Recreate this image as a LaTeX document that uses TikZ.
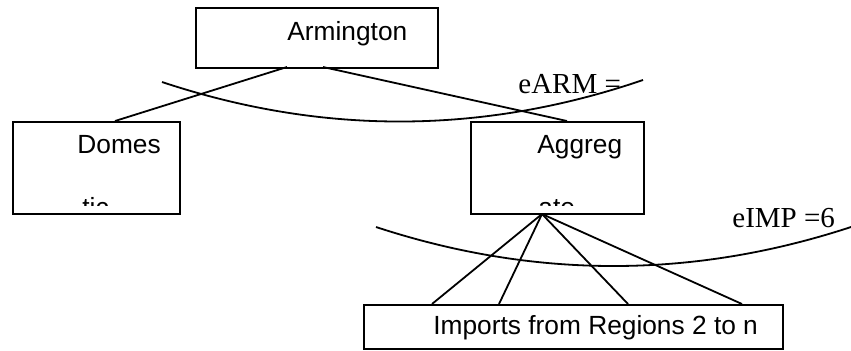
\documentclass[tikz,border=0pt]{standalone}
\usepackage{fontspec}
\setmainfont{Liberation Serif}
\newfontfamily\arialf{Liberation Sans}
\begin{document}
\begin{tikzpicture}[x=0.5pt,y=-0.5pt,
  box/.style={draw=black,line width=0.9pt,inner sep=0pt,anchor=north west},
  conn/.style={draw=black,line width=0.9pt},
  sanslabel/.style={font=\arialf\fontsize{13.15pt}{15pt}\selectfont,inner sep=0pt,anchor=base west},
  seriflabel/.style={font=\fontsize{14.5pt}{17pt}\selectfont,inner sep=0pt,anchor=base west}]
\useasboundingbox (0,0) rectangle (851,350);
\fill[white] (0,0) rectangle (851,350);
% boxes
\node[box,minimum width=121pt,minimum height=30pt] (arm) at (195,7) {};
\node[box,minimum width=83.5pt,minimum height=46pt] (dom) at (12,121) {};
\node[box,minimum width=86.5pt,minimum height=46pt] (agg) at (470,121) {};
\node[box,minimum width=209.5pt,minimum height=22pt] (imp) at (363,304) {};
% texts
\node[sanslabel] (tarm) at (287,40) {Armington};
\node[sanslabel] (tdom) at (77,153) {Domes};
\node[sanslabel] (tagg) at (537,153) {Aggreg};
\begin{scope}
  \clip (12,121) rectangle (643,205);
  \node[sanslabel] (tdom2) at (82,216) {tic};
  \node[sanslabel] (tagg2) at (538,216) {ate};
\end{scope}
\begin{scope}
  \clip (363,304) rectangle (782,339);
  \node[sanslabel] (timp) at (433,334) {Imports from Regions 2 to n};
\end{scope}
\node[seriflabel] (earm) at (518,93) {eARM =};
\node[seriflabel] (eimp) at (732,227) {eIMP =6};
% connection points
\coordinate (armA) at (287,67);
\coordinate (armB) at (323,67);
\coordinate (domT) at (115,121);
\coordinate (aggT) at (567,121);
\coordinate (aggB) at (542,214);
\coordinate (imp1) at (432,304);
\coordinate (imp2) at (499,304);
\coordinate (imp3) at (628,304);
\coordinate (imp4) at (742,304);
% connectors
\draw[conn] (armA) -- (domT);
\draw[conn] (armB) -- (aggT);
\draw[conn] (aggB) -- (imp1);
\draw[conn] (aggB) -- (imp2);
\draw[conn] (aggB) -- (imp3);
\draw[conn] (aggB) -- (imp4);
% elasticity arcs
\coordinate (arc1s) at (162,82);
\coordinate (arc1e) at (643,80);
\draw[conn] (arc1s) .. controls (322.3,135.3) and (482.7,134.7) .. (arc1e);
\coordinate (arc2s) at (376,227);
\coordinate (arc2e) at (851,227);
\draw[conn] (arc2s) .. controls (534.3,279) and (692.7,279) .. (arc2e);
\end{tikzpicture}
\end{document}
